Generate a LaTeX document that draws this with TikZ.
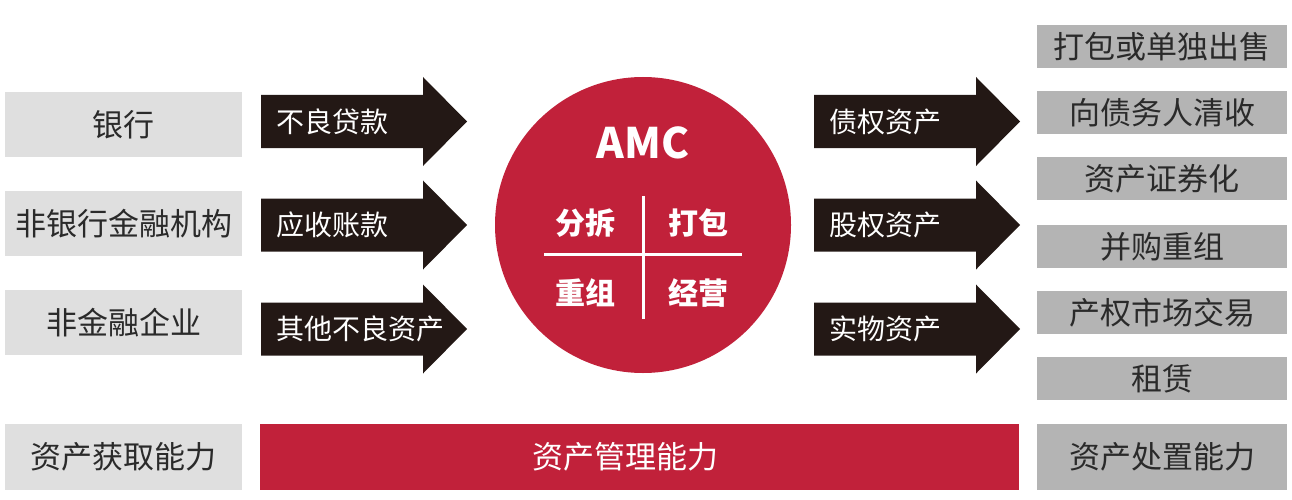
\documentclass[tikz,border=0pt]{standalone}
\usepackage{fontspec}
\setmainfont{Noto Sans CJK SC}
\usepackage{xcolor}
\usetikzlibrary{positioning}
\definecolor{amcred}{HTML}{C1213A}
\definecolor{arrowdark}{HTML}{231815}
\definecolor{boxlight}{HTML}{DFDFDF}
\definecolor{boxdark}{HTML}{B4B4B4}
\definecolor{textdark}{HTML}{2A2A2A}
\tikzset{
    srcbox/.style = {fill=boxlight, minimum width=237pt, minimum height=65pt,
        inner sep=0pt, text=textdark, font=\fontsize{31}{36}\selectfont},
    outbox/.style = {fill=boxdark, minimum width=250pt, minimum height=43pt,
        inner sep=0pt, text=textdark, font=\fontsize{31}{36}\selectfont},
    arrtext/.style = {anchor=west, inner sep=0pt, text=white,
        font=\fontsize{28}{34}\selectfont},
    quad/.style = {inner sep=0pt, text=white, font=\bfseries\fontsize{30}{36}\selectfont}
}

\begin{document}
\begin{tikzpicture}[x=1pt,y=-1pt]
        \useasboundingbox (0,0) rectangle (1292,500);

        % sources
        \node[srcbox] (bank) at (123.5, 124.5) {银行};
        \node[srcbox] (nonbank) at (123.5, 223.5) {非银行金融机构};
        \node[srcbox] (nonfin) at (123.5, 322.5) {非金融企业};
        \node[srcbox, minimum height=66pt] (acquire) at (123.5, 457) {资产获取能力};

        % big arrows
        \foreach \xa/\xb/\xc in {261/423/467, 814/976/1020}
            \foreach \yc in {121.5, 225, 329}
                \fill[arrowdark] (\xa,\yc-26.5) -- (\xb,\yc-26.5) -- (\xb,\yc-44.5)
                    -- (\xc,\yc) -- (\xb,\yc+44.5) -- (\xb,\yc+26.5)
                    -- (\xa,\yc+26.5) -- cycle;

        \node[arrtext] (loan) at (276, 121.5) {不良贷款};
        \node[arrtext] (recv) at (276, 225) {应收账款};
        \node[arrtext] (other) at (276, 329) {其他不良资产};
        \node[arrtext] (debt) at (829, 121.5) {债权资产};
        \node[arrtext] (equity) at (829, 225) {股权资产};
        \node[arrtext] (real) at (829, 329) {实物资产};

        % AMC circle
        \node[circle, fill=amcred, minimum size=296pt, inner sep=0pt] (amc) at (643, 225) {};
        \node[inner sep=0pt, text=white, font=\bfseries\fontsize{42}{48}\selectfont]
            (title) at (643, 143) {AMC};
        \draw[white, line width=3pt] (544, 254) -- (742, 254);
        \draw[white, line width=3pt] (643, 196) -- (643, 319);
        \node[quad] (split) at (585, 223) {分拆};
        \node[quad] (pack) at (698, 223) {打包};
        \node[quad] (reorg) at (585, 293) {重组};
        \node[quad] (operate) at (698, 293) {经营};

        % disposal
        \node[outbox] (sell) at (1162, 46.5) {打包或单独出售};
        \node[outbox] (collect) at (1162, 112.5) {向债务人清收};
        \node[outbox] (secur) at (1162, 178.5) {资产证券化};
        \node[outbox] (merge) at (1162, 246.5) {并购重组};
        \node[outbox] (trade) at (1162, 312.5) {产权市场交易};
        \node[outbox] (lease) at (1162, 378.5) {租赁};
        \node[outbox, minimum height=66pt] (dispose) at (1162, 457) {资产处置能力};

        % management bar
        \node[fill=amcred, minimum width=759pt, minimum height=66pt, inner sep=0pt] (manage) at (639.5, 457) {};
        \node[inner sep=0pt, text=white, font=\fontsize{31}{36}\selectfont] (managetext) at (625, 457) {资产管理能力};
    \end{tikzpicture}
\end{document}
